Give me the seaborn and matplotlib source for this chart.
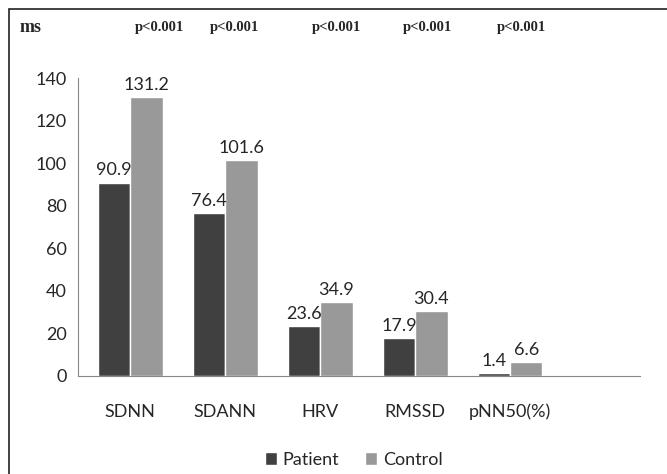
import numpy as np
import pandas as pd
import seaborn as sns
import matplotlib.pyplot as plt
from matplotlib.patches import Rectangle
import matplotlib.transforms as mtransforms

# HRV parameters, patient vs control
categories = ['SDNN', 'SDANN', 'HRV', 'RMSSD', 'pNN50(%)']
patient = [90.9, 76.4, 23.6, 17.9, 1.4]
control = [131.2, 101.6, 34.9, 30.4, 6.6]
p_labels = ['p<0.001'] * 5
p_xpos = [0.31, 1.10, 2.17, 3.13, 4.12]

df = pd.DataFrame({
    'param': categories * 2,
    'value': patient + control,
    'group': ['Patient'] * 5 + ['Control'] * 5,
})

sns.set_style('white')
plt.rcParams['font.family'] = ['Lato', 'DejaVu Sans']

fig = plt.figure(figsize=(6.67, 4.74), dpi=100)
ax = fig.add_axes([0.117, 0.207, 0.843, 0.628])

sns.barplot(data=df, x='param', y='value', hue='group',
            palette=['#404040', '#999999'], width=0.68, saturation=1,
            ax=ax, legend=True)

for c in ax.containers:
    ax.bar_label(c, fmt='%.1f', padding=3, fontsize=13, color='#262626')

ax.set_ylim(0, 140)
ax.set_xlim(-0.55, 5.37)
ax.set_yticks(range(0, 141, 20))
ax.set_xlabel('')
ax.set_ylabel('')
ax.tick_params(axis='both', length=0, labelsize=13, colors='#262626')
ax.tick_params(axis='x', pad=20)
ax.tick_params(axis='y', pad=8)
for s in ['top', 'right']:
    ax.spines[s].set_visible(False)
ax.spines['left'].set_color('#888888')
ax.spines['bottom'].set_color('#888888')

ax.legend(loc='upper center', bbox_to_anchor=(0.49, -0.2), ncol=2,
          frameon=False, fontsize=13, handlelength=0.7, handleheight=0.7,
          handletextpad=0.3, columnspacing=1.4)

# p-values above the plot
trans = mtransforms.blended_transform_factory(ax.transData, fig.transFigure)
for xp, t in zip(p_xpos, p_labels):
    fig.text(xp, 1 - 27 / 474, t, transform=trans, ha='center', va='center',
             fontsize=10.5, fontweight='bold', family='Liberation Serif')
fig.text(20 / 667, 1 - 27 / 474, 'ms', ha='left', va='center', fontsize=13,
         fontweight='bold', family='Liberation Serif')

# outer frame
fig.patches.append(Rectangle((9 / 667, -0.01), 1.0, 1 - 9 / 474 + 0.01,
                             transform=fig.transFigure, fill=False,
                             edgecolor='#222222', linewidth=1.2))

fig.savefig('out.png', dpi=100)
